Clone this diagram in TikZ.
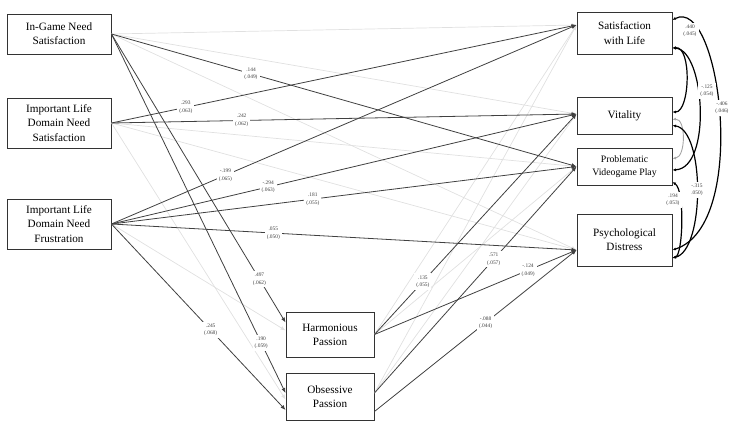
\documentclass[tikz,border=0pt]{standalone}
\usepackage{fontspec}
\setmainfont{Liberation Serif}
\usetikzlibrary{arrows.meta}

\begin{document}
\begin{tikzpicture}[x=1pt,y=-1pt,
    box/.style={draw=black!80,line width=0.9pt,fill=white,align=center,
        inner sep=1pt,font=\fontsize{11.2}{14.3}\selectfont},
    sig/.style={draw=black!75,line width=0.8pt,-{Latex[length=5pt,width=4pt]}},
    ns/.style={draw=black!12,line width=0.7pt,-{Latex[length=5pt,width=4pt]}},
    coef/.style={fill=white,inner xsep=2pt,inner ysep=2pt,align=center,text=black!75,
        font=\fontsize{5.4}{7.5}\selectfont},
    cov/.style={line width=1.2pt,{Latex[length=3.5pt,width=3pt]}-{Latex[length=3.5pt,width=3pt]}}]
\useasboundingbox (0,0) rectangle (738,433);

% predictors
\node[box,minimum width=104pt,minimum height=40pt] (igns) at (59,34) {In-Game Need\\Satisfaction};
\node[box,minimum width=104pt,minimum height=50pt] (ilns) at (59,123) {Important Life\\Domain Need\\Satisfaction};
\node[box,minimum width=104pt,minimum height=50pt] (ilnf) at (59,224) {Important Life\\Domain Need\\Frustration};
% passions
\node[box,minimum width=88pt,minimum height=45pt] (hp) at (330,334.5) {Harmonious\\Passion};
\node[box,minimum width=88pt,minimum height=47pt] (op) at (330,396.5) {Obsessive\\Passion};
% outcomes
\node[box,minimum width=95pt,minimum height=42pt] (swl) at (624.5,33) {Satisfaction\\with Life};
\node[box,minimum width=95pt,minimum height=37pt] (vit) at (624.5,115.5) {Vitality};
\node[box,minimum width=95pt,minimum height=37pt,font=\fontsize{9.8}{12.5}\selectfont] (pvp) at (624.5,166.5) {Problematic\\Videogame Play};
\node[box,minimum width=95pt,minimum height=52pt] (dis) at (624.5,240) {Psychological\\Distress};

\coordinate (swlin) at ([yshift=8pt]swl.west);
\coordinate (vitin) at ([yshift=1.5pt]vit.west);
\coordinate (pvpin) at (pvp.west);
\coordinate (disin) at ([yshift=-10pt]dis.west);
\coordinate (hpin1) at ([yshift=12pt]hp.west);
\coordinate (hpin2) at ([yshift=4pt]hp.west);
\coordinate (opin1) at ([yshift=3.5pt]op.west);
\coordinate (opin2) at ([yshift=-13.5pt]op.west);
\coordinate (opin3) at ([yshift=-3pt]op.west);
\coordinate (opout1) at ([yshift=3.5pt]op.east);
\coordinate (opout2) at ([yshift=-15pt]op.east);

% non significant paths
\draw[ns] (igns.east) -- (swlin);
\draw[ns] (igns.east) -- (vitin);
\draw[ns] (igns.east) -- (disin);
\draw[ns] (ilns.east) -- (pvpin);
\draw[ns] (ilns.east) -- (disin);
\draw[ns] (ilns.east) -- (opin3);
\draw[ns] (ilnf.east) -- (hpin2);
\draw[ns] (hp.east) -- (swlin);
\draw[ns] (hp.east) -- (pvpin);
\draw[ns] (opout1) -- (swlin);
\draw[ns] (opout1) -- (vitin);

% significant paths
\draw[sig] (igns.east) -- node[coef,pos=0.30]{.144\\(.049)} (pvpin);
\draw[sig] (igns.east) -- node[coef,pos=0.85]{.497\\(.062)} (hpin1);
\draw[sig] (igns.east) -- node[coef,pos=0.86]{.190\\(.059)} (opin1);
\draw[sig] (ilns.east) -- node[coef,pos=0.16]{.293\\(.063)} (swlin);
\draw[sig] (ilns.east) -- node[coef,pos=0.28]{.242\\(.062)} (vitin);
\draw[sig] (ilnf.east) -- node[coef,pos=0.245]{-.199\\(.065)} (swlin);
\draw[sig] (ilnf.east) -- node[coef,pos=0.337]{-.294\\(.063)} (vitin);
\draw[sig] (ilnf.east) -- node[coef,pos=0.433]{.181\\(.055)} (pvpin);
\draw[sig] (ilnf.east) -- node[coef,pos=0.348]{.055\\(.050)} (disin);
\draw[sig] (ilnf.east) -- node[coef,pos=0.57]{.245\\(.068)} (opin2);
\draw[sig] (hp.east) -- node[coef,pos=0.24]{.135\\(.055)} (vitin);
\draw[sig] (hp.east) -- node[coef,pos=0.76]{-.124\\(.049)} (disin);
\draw[sig] (opout1) -- node[coef,pos=0.59]{.571\\(.057)} (pvpin);
\draw[sig] (opout2) -- node[coef,pos=0.55]{-.088\\(.044)} (disin);

% residual covariances
\draw[cov,draw=black!35,line width=0.9pt] ([yshift=-4pt]vit.east) .. controls (686,118) and (686,157) .. ([yshift=8pt]pvp.east);
\draw[cov] ([yshift=-15pt]swl.east) .. controls (692,46) and (690,112) .. ([yshift=3.5pt]vit.east);
\draw[cov] ([yshift=-15pt]swl.east) .. controls (705,50) and (712,168) .. ([yshift=-3.5pt]pvp.east);
\draw[cov] ([yshift=-10pt]vit.east) .. controls (705,130) and (705,250) .. ([yshift=-18pt]dis.east);
\draw[cov] ([yshift=-15.5pt]pvp.east) .. controls (685,190) and (683,255) .. ([yshift=-18pt]dis.east);
\draw[cov] ([yshift=13pt]swl.east) .. controls (720,-5) and (750,225) .. ([yshift=-10pt]dis.east);
\node[coef] (c440) at (690,31) {.440\\(.045)};
\node[coef] (c125) at (707,91) {-.125\\(.054)};
\node[coef] (c406) at (722,108) {-.406\\(.046)};
\node[coef] (c315) at (697,190) {-.315\\.050)};
\node[coef] (c194) at (673,200) {.194\\(.053)};
\end{tikzpicture}
\end{document}
